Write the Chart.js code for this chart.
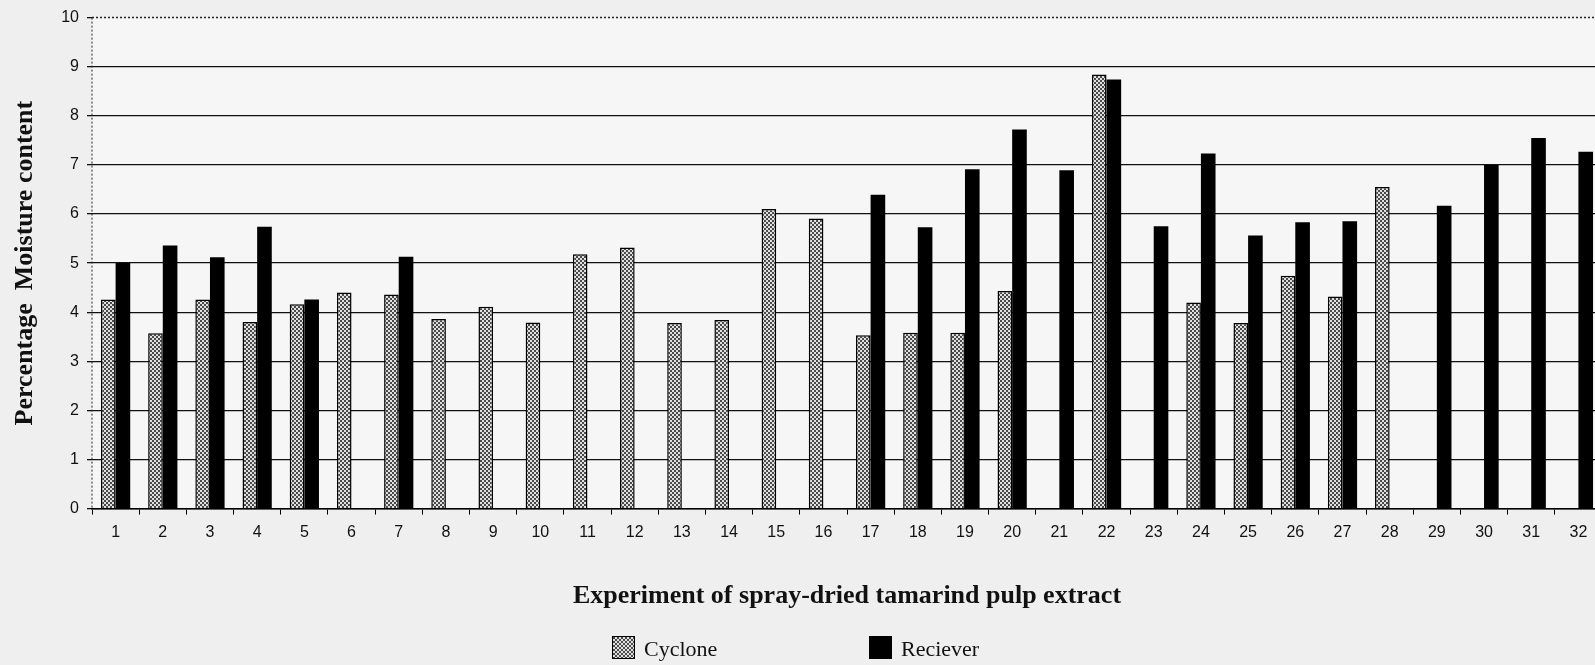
<!DOCTYPE html>
<html>
<head>
<meta charset="utf-8">
<script src="https://cdn.jsdelivr.net/npm/chart.js@4/dist/chart.umd.min.js"></script>
<style>
  html, body { margin: 0; padding: 0; overflow: hidden; background: #efefef; }
  #wrap { position: relative; width: 1595px; height: 665px; overflow: hidden; }
  #chart { position: absolute; left: 0; top: 0; }
  .legend { position: absolute; top: 636px; font-family: "Liberation Serif", "Times New Roman", serif; font-size: 22px; color: #111; }
  .legend span.box { display: inline-block; width: 21px; height: 21px; border: 1px solid #000; vertical-align: -3px; margin-right: 9px; }
</style>
</head>
<body>
<div id="wrap">
  <canvas id="chart" width="1610" height="665"></canvas>
  <div class="legend" style="left:612px"><span class="box" id="boxCyclone"></span>Cyclone</div>
  <div class="legend" style="left:869px"><span class="box" style="background:#000"></span>Reciever</div>
</div>
<script>
// Experiments 1..32
const experiments = ['1','2','3','4','5','6','7','8','9','10','11','12','13','14','15','16',
                     '17','18','19','20','21','22','23','24','25','26','27','28','29','30','31','32'];

const cyclone = [4.26, 3.57, 4.26, 3.80, 4.16, 4.40, 4.36, 3.86, 4.11, 3.79, 5.18, 5.32, 3.78, 3.84, 6.10, 5.91,
                 3.53, 3.58, 3.58, 4.43, null, 8.84, null, 4.20, 3.78, 4.74, 4.32, 6.55, null, null, null, null];

const reciever = [5.00, 5.36, 5.12, 5.74, 4.26, null, 5.13, null, null, null, null, null, null, null, null, null,
                  6.39, 5.73, 6.91, 7.72, 6.89, 8.74, 5.75, 7.23, 5.56, 5.83, 5.85, null, 6.17, 7.00, 7.55, 7.27];

const yTicks = [0, 1, 2, 3, 4, 5, 6, 7, 8, 9, 10];

// checkered fill for the cyclone bars
function makePattern() {
    const c = document.createElement('canvas');
    c.width = 4; c.height = 4;
    const g = c.getContext('2d');
    g.fillStyle = '#e0e0e0';
    g.fillRect(0, 0, 4, 4);
    g.fillStyle = '#4a4a4a';
    g.fillRect(0, 0, 2, 2);
    g.fillRect(2, 2, 2, 2);
    return c;
}
const patCanvas = makePattern();
document.getElementById('boxCyclone').style.backgroundImage = 'url(' + patCanvas.toDataURL() + ')';

const ctx = document.getElementById('chart').getContext('2d');
const cyclonePattern = ctx.createPattern(patCanvas, 'repeat');

// plot background + dotted top line and left axis
const frame = {
    id: 'frame',
    beforeDraw(chart) {
        const a = chart.chartArea, c = chart.ctx;
        c.save();
        c.fillStyle = '#f6f6f6';
        c.fillRect(a.left, a.top, a.right - a.left, a.bottom - a.top);
        c.restore();
    },
    afterDatasetsDraw(chart) {
        const a = chart.chartArea, c = chart.ctx;
        c.save();
        c.strokeStyle = '#222';
        c.lineWidth = 1.5;
        c.setLineDash([2, 2]);
        c.beginPath();
        c.moveTo(a.left, a.top);
        c.lineTo(a.right, a.top);
        c.stroke();
        c.lineWidth = 1;
        c.beginPath();
        c.moveTo(a.left, a.top);
        c.lineTo(a.left, a.bottom);
        c.stroke();
        c.restore();
    }
};

const tickFont = { family: '"Liberation Sans", Arial, sans-serif', size: 16 };
const titleFont = { family: '"Liberation Serif", "Times New Roman", serif', size: 26, weight: 'bold' };

new Chart(ctx, {
    type: 'bar',
    data: {
        labels: experiments,
        datasets: [
            {
                label: 'Cyclone',
                data: cyclone,
                backgroundColor: cyclonePattern,
                borderColor: '#000',
                borderWidth: 1.5,
                categoryPercentage: 0.62,
                barPercentage: 1.0
            },
            {
                label: 'Reciever',
                data: reciever,
                backgroundColor: '#000',
                borderColor: '#000',
                borderWidth: 0,
                categoryPercentage: 0.62,
                barPercentage: 1.0
            }
        ]
    },
    options: {
        responsive: false,
        animation: false,
        layout: { padding: { top: 16, right: 8, bottom: 0, left: 0 } },
        plugins: {
            legend: { display: false },
            tooltip: { enabled: false }
        },
        scales: {
            x: {
                grid: {
                    offset: true,
                    drawOnChartArea: false,
                    drawTicks: true,
                    tickLength: 6,
                    color: '#000',
                    lineWidth: 1
                },
                border: { color: '#000', width: 1.5 },
                ticks: {
                    color: '#111',
                    padding: 8,
                    maxRotation: 0,
                    autoSkip: false,
                    font: tickFont
                },
                title: {
                    display: true,
                    text: 'Experiment of spray-dried tamarind pulp extract',
                    color: '#111',
                    padding: { top: 31, bottom: 53 },
                    font: titleFont
                }
            },
            y: {
                min: 0,
                max: 10,
                afterBuildTicks(scale) {
                    scale.ticks = yTicks.map(v => ({ value: v }));
                },
                afterFit(scale) {
                    scale.width = 92;
                },
                grid: {
                    color: ctx => ctx.tick && ctx.tick.value === 10 ? 'rgba(0,0,0,0)' : '#111',
                    lineWidth: 1.3,
                    tickLength: 5,
                    tickColor: '#111'
                },
                border: { display: false },
                ticks: {
                    color: '#111',
                    padding: 8,
                    font: tickFont
                },
                title: {
                    display: true,
                    text: 'Percentage  Moisture content',
                    color: '#111',
                    padding: { top: 10, bottom: 0 },
                    font: titleFont
                }
            }
        }
    },
    plugins: [frame]
});
</script>
</body>
</html>
